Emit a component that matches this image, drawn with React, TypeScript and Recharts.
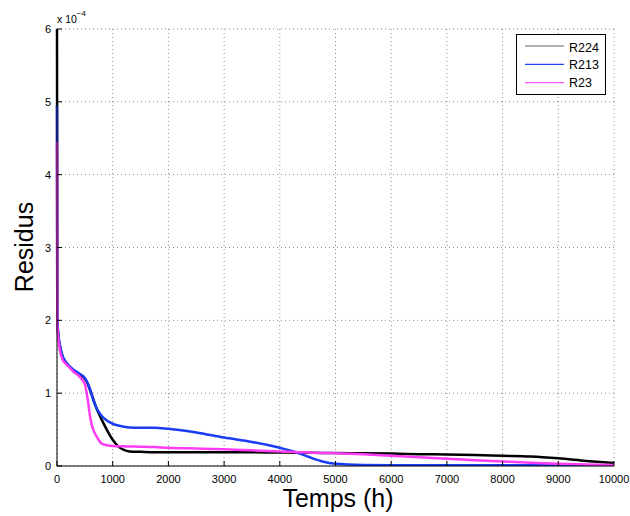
import React from "react";
import { LineChart, Line, XAxis, YAxis, CartesianGrid, Legend, Label } from "recharts";

// hours
const times = [
  0, 5, 20, 50, 100, 150, 200, 300, 400, 500,
  550, 600, 650, 700, 800, 900, 1000, 1100, 1200, 1300,
  1500, 1750, 2000, 2500, 3000, 3500, 4000, 4250, 4500, 4750,
  5000, 5500, 6000, 6500, 7000, 7500, 8000, 8500, 9000, 9500,
  10000,
];

// residus, in units of 1e-4
const r224 = [
  6, 2.05, 1.83, 1.66, 1.5, 1.43, 1.38, 1.31, 1.26, 1.2,
  1.13, 1.03, 0.92, 0.81, 0.64, 0.49, 0.36, 0.27, 0.22, 0.2,
  0.195, 0.19, 0.19, 0.19, 0.19, 0.188, 0.185, 0.183, 0.182, 0.18,
  0.178, 0.174, 0.17, 0.163, 0.157, 0.15, 0.14, 0.13, 0.105, 0.07,
  0.04,
];
const r213 = [
  4.95, 2.05, 1.84, 1.67, 1.51, 1.44, 1.39, 1.32, 1.27, 1.21,
  1.14, 1.04, 0.91, 0.81, 0.69, 0.62, 0.58, 0.555, 0.54, 0.53,
  0.525, 0.525, 0.51, 0.46, 0.39, 0.33, 0.25, 0.2, 0.13, 0.065,
  0.03, 0.015, 0.012, 0.011, 0.01, 0.01, 0.01, 0.01, 0.01, 0.01,
  0.01,
];
const r23 = [
  4.45, 1.95, 1.78, 1.6, 1.46, 1.41, 1.37, 1.29, 1.23, 1.12,
  0.92, 0.65, 0.5, 0.42, 0.31, 0.285, 0.275, 0.272, 0.27, 0.268,
  0.265, 0.26, 0.25, 0.24, 0.23, 0.215, 0.2, 0.192, 0.185, 0.18,
  0.175, 0.16, 0.14, 0.12, 0.1, 0.08, 0.062, 0.045, 0.03, 0.02,
  0.015,
];

const xTicks = [0, 1000, 2000, 3000, 4000, 5000, 6000, 7000, 8000, 9000, 10000];
const yTicks = [0, 1, 2, 3, 4, 5, 6];

const series = [
  { key: "r224", name: "R224", color: "#000000", legendColor: "#6b6b6b" },
  { key: "r213", name: "R213", color: "#1a3cf5", legendColor: "#2444f0" },
  { key: "r23", name: "R23", color: "#ff3cf5", legendColor: "#ff55f5" },
];

const data = times.map((t, i) => ({ t, r224: r224[i], r213: r213[i], r23: r23[i] }));

const FONT = "'Liberation Sans', Arial, Helvetica, sans-serif";
const TICK_MARGIN = 6;

// matlab-style inward ticks: tickSize is 0, so x/y here sit TICK_MARGIN off the axis line
function YTick(props: any) {
  const { x, y, payload } = props;
  const ax = x + TICK_MARGIN;
  return (
    <g>
      <line x1={ax} x2={ax + 5} y1={y} y2={y} stroke="#000" />
      <text x={x} y={y + 4} textAnchor="end" fontSize={11} fontFamily={FONT} fill="#000">
        {payload.value}
      </text>
    </g>
  );
}

function XTick(props: any) {
  const { x, y, payload } = props;
  const ay = y - TICK_MARGIN;
  return (
    <g>
      <line x1={x} x2={x} y1={ay} y2={ay - 5} stroke="#000" />
      <text x={x} y={ay + 17.3} textAnchor="middle" fontSize={11} fontFamily={FONT} fill="#000">
        {payload.value}
      </text>
    </g>
  );
}

function LegendBox() {
  return (
    <div
      style={{
        width: 90,
        height: 61,
        border: "1.5px solid #000",
        background: "#fff",
        boxSizing: "border-box",
        fontFamily: FONT,
        fontSize: 12.5,
      }}
    >
      <svg width={88} height={58}>
        {series.map((s, i) => (
          <g key={s.key}>
            <line x1={8} x2={47} y1={11 + i * 18.3} y2={11 + i * 18.3} stroke={s.legendColor} strokeWidth={1.2} />
            <text x={52} y={16.5 + i * 17.8} fontSize={12.5} fontFamily={FONT} fill="#000">
              {s.name}
            </text>
          </g>
        ))}
      </svg>
    </div>
  );
}

export default function App() {
  return (
    <div style={{ position: "absolute", left: 0, top: 0, width: 630, height: 516, background: "#fff" }}>
      <LineChart width={630} height={516} data={data} margin={{ top: 29, right: 16, bottom: 10, left: 12 }}>
        <CartesianGrid stroke="#8a8a8a" strokeDasharray="1 3" />
        <XAxis
          dataKey="t"
          type="number"
          domain={[0, 10000]}
          ticks={xTicks}
          height={40}
          tickSize={0}
          tickMargin={TICK_MARGIN}
          tick={<XTick />}
          stroke="#000"
          interval={0}
        >
          <Label
            content={() => (
              <text x={338} y={507} textAnchor="middle" fontSize={25} fontFamily={FONT} fill="#000">
                Temps (h)
              </text>
            )}
          />
        </XAxis>
        <YAxis
          type="number"
          domain={[0, 6]}
          ticks={yTicks}
          width={45}
          tickSize={0}
          tickMargin={TICK_MARGIN}
          tick={<YTick />}
          stroke="#000"
          allowDataOverflow
          interval={0}
        >
          <Label
            content={() => (
              <g>
                <text
                  x={33}
                  y={247}
                  transform="rotate(-90 33 247)"
                  textAnchor="middle"
                  fontSize={25}
                  fontFamily={FONT}
                  fill="#000"
                >
                  Residus
                </text>
                <text x={57} y={22.5} fontSize={10.5} fontFamily={FONT} fill="#000">
                  x 10
                  <tspan dy={-7} fontSize={8}>
                    −4
                  </tspan>
                </text>
              </g>
            )}
          />
        </YAxis>
        <Legend
          layout="vertical"
          align="center"
          verticalAlign="middle"
          content={() => <LegendBox />}
          wrapperStyle={{ position: "absolute", left: 516, top: 34, width: 92, height: 62 }}
        />
        {series.map((s) => (
          <Line
            key={s.key}
            dataKey={s.key}
            name={s.name}
            type="monotone"
            stroke={s.color}
            strokeWidth={2.5}
            dot={false}
            isAnimationActive={false}
          />
        ))}
      </LineChart>
    </div>
  );
}
